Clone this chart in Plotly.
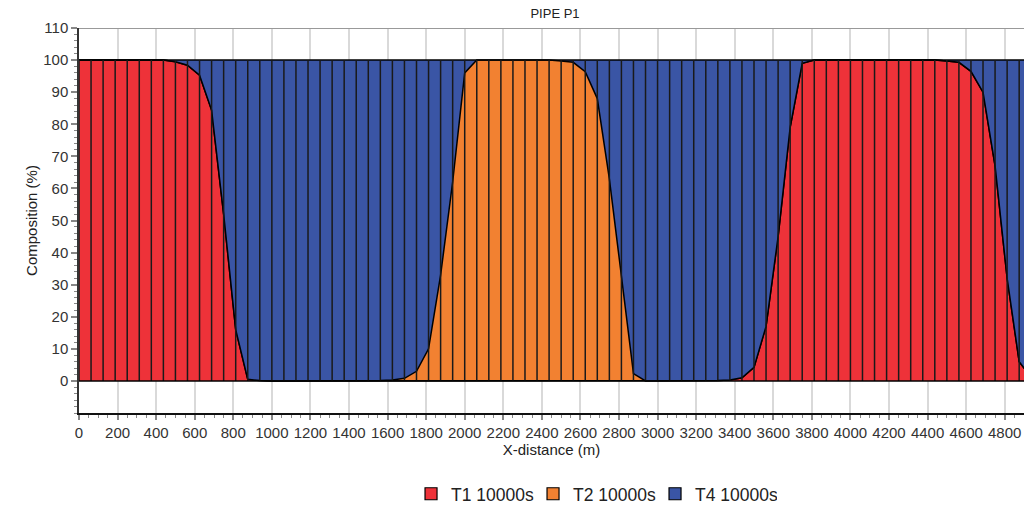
import plotly.graph_objects as go

# X-distance of each profile point (m)
x_dist = [0, 62.5, 125, 187.5, 250, 312.5, 375, 437.5, 500, 562.5,
          625, 687.5, 750, 812.5, 875, 937.5, 1000, 1062.5, 1125, 1187.5,
          1250, 1312.5, 1375, 1437.5, 1500, 1562.5, 1625, 1687.5, 1750, 1812.5,
          1875, 1937.5, 2000, 2062.5, 2125, 2187.5, 2250, 2312.5, 2375, 2437.5,
          2500, 2562.5, 2625, 2687.5, 2750, 2812.5, 2875, 2937.5, 3000, 3062.5,
          3125, 3187.5, 3250, 3312.5, 3375, 3437.5, 3500, 3562.5, 3625, 3687.5,
          3750, 3812.5, 3875, 3937.5, 4000, 4062.5, 4125, 4187.5, 4250, 4312.5,
          4375, 4437.5, 4500, 4562.5, 4625, 4687.5, 4750, 4812.5, 4875, 4937.5,
          5000]

# Composition (%)
t1 = [100, 100, 100, 100, 100, 100, 100, 100, 99.5, 98.4,
      95.3, 84.4, 52, 16, 0.5, 0.1, 0, 0, 0, 0,
      0, 0, 0, 0, 0, 0, 0, 0, 0, 0,
      0, 0, 0, 0, 0, 0, 0, 0, 0, 0,
      0, 0, 0, 0, 0, 0, 0, 0, 0, 0,
      0, 0, 0, 0.1, 0.3, 1, 4.2, 17, 45, 79,
      99, 100, 100, 100, 100, 100, 100, 100, 100, 100,
      100, 100, 99.7, 99.3, 96.5, 90, 67, 32, 6, 1,
      0]
t2 = [0, 0, 0, 0, 0, 0, 0, 0, 0, 0,
      0, 0, 0, 0, 0, 0, 0, 0, 0, 0,
      0, 0, 0, 0, 0, 0.1, 0.3, 0.8, 3, 10,
      33, 62, 96, 100, 100, 100, 100, 100, 100, 100,
      99.7, 99.3, 96.4, 88, 63, 33, 2.3, 0, 0, 0,
      0, 0, 0, 0, 0, 0, 0, 0, 0, 0,
      0, 0, 0, 0, 0, 0, 0, 0, 0, 0,
      0, 0, 0, 0, 0, 0, 0, 0, 0, 0,
      0]
t4 = [0, 0, 0, 0, 0, 0, 0, 0, 0.5, 1.6,
      4.7, 15.6, 48, 84, 99.5, 99.9, 100, 100, 100, 100,
      100, 100, 100, 100, 100, 99.9, 99.7, 99.2, 97, 90,
      67, 38, 4, 0, 0, 0, 0, 0, 0, 0,
      0.3, 0.7, 3.6, 12, 37, 67, 97.7, 100, 100, 100,
      100, 100, 100, 99.9, 99.7, 99, 95.8, 83, 55, 21,
      1, 0, 0, 0, 0, 0, 0, 0, 0, 0,
      0, 0, 0.3, 0.7, 3.5, 10, 33, 68, 94, 99,
      100]

series_names = ["T1 10000s", "T2 10000s", "T4 10000s"]
series_vals = [t1, t2, t4]
series_colors = ["#EE3239", "#F28131", "#3A55A5"]

x_ticks = list(range(0, 5000, 200))
y_ticks = list(range(0, 120, 10))
FONT = "Liberation Sans, Arial, sans-serif"

fig = go.Figure()

for name, vals, col in zip(series_names, series_vals, series_colors):
    fig.add_trace(go.Scatter(
        x=x_dist, y=vals, name=name, stackgroup="comp", mode="lines",
        line=dict(color="black", width=1.5, shape="linear"),
        fillcolor=col, showlegend=False, hoverinfo="skip",
    ))

# vertical separators at each profile point
vx, vy = [], []
for xv in x_dist:
    vx += [xv, xv, None]
    vy += [0, 100, None]
fig.add_trace(go.Scatter(x=vx, y=vy, mode="lines",
                         line=dict(color="#1a1a1a", width=1.5),
                         showlegend=False, hoverinfo="skip"))

# legend swatches
for name, col in zip(series_names, series_colors):
    fig.add_trace(go.Bar(x=[None], y=[None], name=name,
                         marker=dict(color=col, line=dict(color="black", width=1.2))))

fig.update_layout(
    width=1024, height=509,
    margin=dict(l=79, r=0, t=28, b=96, autoexpand=False),
    paper_bgcolor="white", plot_bgcolor="white",
    font=dict(family=FONT, size=15, color="#333333"),
    title=dict(text="PIPE P1", x=555 / 1024, xanchor="center",
               y=1 - 13 / 509, yanchor="middle",
               font=dict(family=FONT, size=13, color="#222222")),
    showlegend=True,
    legend=dict(orientation="h", x=0.545, xanchor="center",
                y=-0.21, yanchor="middle",
                font=dict(family=FONT, size=17.5, color="#222222"),
                traceorder="normal", itemwidth=30, entrywidth=77,
                entrywidthmode="pixels"),
    xaxis=dict(
        range=[0, 4900], tickmode="array", tickvals=x_ticks,
        ticktext=[str(v) for v in x_ticks],
        showgrid=True, gridcolor="#d9d9d9", gridwidth=1.5,
        zeroline=False, showline=True, linecolor="#111111", linewidth=1.5,
        ticks="outside", ticklen=5, tickcolor="#888888", tickwidth=1.5,
        minor=dict(tickmode="linear", tick0=0, dtick=50, ticks="outside", ticklen=3,
                   tickcolor="#888888", tickwidth=1, showgrid=False),
        title=dict(text="X-distance (m)", font=dict(size=15, color="#222222"), standoff=3),
        tickfont=dict(size=15, color="#333333"),
    ),
    yaxis=dict(
        range=[-10, 110], tickmode="array", tickvals=y_ticks,
        ticktext=[str(v) for v in y_ticks],
        showgrid=False, zeroline=False,
        showline=True, linecolor="#333333", linewidth=1.5,
        ticks="outside", ticklen=6, tickcolor="#888888", tickwidth=1.5,
        minor=dict(tickmode="linear", tick0=0, dtick=2, ticks="outside", ticklen=3,
                   tickcolor="#888888", tickwidth=1, showgrid=False),
        title=dict(text="Composition (%)", font=dict(size=15, color="#222222"), standoff=2),
        tickfont=dict(size=15, color="#333333"),
    ),
    shapes=[
        dict(type="line", xref="paper", yref="y", x0=0, x1=1, y0=110, y1=110,
             line=dict(color="#999999", width=2), layer="above"),
        dict(type="line", xref="paper", yref="y", x0=0, x1=1, y0=0, y1=0,
             line=dict(color="black", width=1.5), layer="above"),
    ],
)

fig.write_html(
    "out.html",
    config={"displayModeBar": False},
    post_script="document.body.style.margin='0';"
                "document.body.style.overflow='hidden';"
                "document.documentElement.style.overflow='hidden';",
)
